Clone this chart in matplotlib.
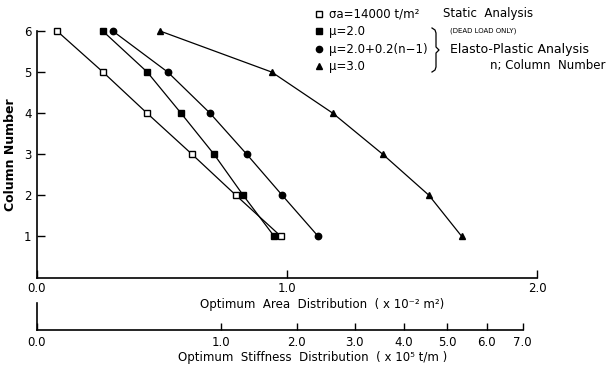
import numpy as np
import matplotlib
matplotlib.use('Agg')
import matplotlib.pyplot as plt
from matplotlib.lines import Line2D

# ── Data (area in 1e-2 m^2, per column) ─────────────────────
columns = [1, 2, 3, 4, 5, 6]
static_area = [0.976, 0.796, 0.620, 0.440, 0.264, 0.080]
mu20_area = [0.949, 0.825, 0.708, 0.576, 0.441, 0.263]
muvar_area = [1.125, 0.981, 0.839, 0.692, 0.523, 0.303]
mu30_area = [1.699, 1.568, 1.383, 1.183, 0.939, 0.492]

labels = ["σa=14000 t/m²", "μ=2.0", "μ=2.0+0.2(n−1)", "μ=3.0"]
area_ticks = [0.0, 1.0, 2.0]
stiff_ticks = [0, 1, 2, 3, 4, 5, 6, 7]
stiff_per_area2 = 1 / 0.539   # stiffness (1e5 t/m) = area^2 / 0.539

W, H = 613, 370
plt.rcParams['font.family'] = 'DejaVu Sans'
plt.rcParams['font.size'] = 8.5

fig = plt.figure(figsize=(W / 100, H / 100), dpi=100)

# ── Main axes ───────────────────────────────────────────────
x0, x1 = 37, 537
y_top, y_bot = 31, 277.5
ax = fig.add_axes([x0 / W, 1 - y_bot / H, (x1 - x0) / W, (y_bot - y_top) / H])

kw = dict(color="black", linewidth=0.9, clip_on=False)
ax.plot(static_area, columns, marker="s", markersize=4, markerfacecolor="white",
        markeredgewidth=1.0, **kw)
ax.plot(mu20_area, columns, marker="s", markersize=4.2, markerfacecolor="black", **kw)
ax.plot(muvar_area, columns, marker="o", markersize=4.6, markerfacecolor="black", **kw)
ax.plot(mu30_area, columns, marker="^", markersize=5, markerfacecolor="black", **kw)

ax.set_xlim(0, 2)
ax.set_ylim(0, 6)
ax.set_xticks(area_ticks)
ax.set_xticklabels([f"{t:.1f}" for t in area_ticks])
ax.set_yticks(columns)
ax.tick_params(direction="in", length=6, width=1.0, pad=4)
ax.tick_params(axis="x", pad=3.5)
for s in ["top", "right"]:
    ax.spines[s].set_visible(False)
for s in ["left", "bottom"]:
    ax.spines[s].set_linewidth(1.2)
ax.set_ylabel("Column Number", fontweight="bold", fontsize=9, labelpad=5)

fig.text(322 / W, 1 - 304.5 / H, "Optimum  Area  Distribution  ( x 10⁻² m²)",
         ha="center", va="center")

# ── Stiffness axis ──────────────────────────────────────────
sb_top, sb_bot = 303, 330
ax2 = fig.add_axes([x0 / W, 1 - sb_bot / H, (x1 - x0) / W, (sb_bot - sb_top) / H])
ax2.set_xscale("function", functions=(lambda k: np.sqrt(np.clip(k, 0, None)),
                                      lambda a: np.asarray(a) ** 2))
ax2.set_xlim(0, 2.0 ** 2 * stiff_per_area2)
ax2.set_xticks(stiff_ticks)
ax2.set_xticklabels([f"{t:.1f}" for t in stiff_ticks])
ax2.minorticks_off()
ax2.set_yticks([])
ax2.tick_params(direction="in", length=5, width=1.0, pad=4)
for s in ["top", "right"]:
    ax2.spines[s].set_visible(False)
ax2.spines["bottom"].set_bounds(0, 7)
ax2.spines["bottom"].set_linewidth(1.2)
ax2.spines["left"].set_linewidth(1.2)
ax2.patch.set_alpha(0)

fig.text(313 / W, 1 - 357.5 / H, "Optimum  Stiffness  Distribution  ( x 10⁵ t/m )",
         ha="center", va="center")

# ── Legend ──────────────────────────────────────────────────
handles = [
    Line2D([], [], linestyle="none", marker="s", markersize=4, markerfacecolor="white",
           markeredgecolor="black"),
    Line2D([], [], linestyle="none", marker="s", markersize=4, color="black"),
    Line2D([], [], linestyle="none", marker="o", markersize=4.5, color="black"),
    Line2D([], [], linestyle="none", marker="^", markersize=5, color="black"),
]
fig.legend(handles, labels, loc="upper left", bbox_to_anchor=(308 / W, 1 - 2 / H),
           frameon=False, handlelength=0.8, handletextpad=0.5, labelspacing=0.38,
           borderpad=0, fontsize=8.5)

fig.text(443 / W, 1 - 14 / H, "Static  Analysis", ha="left", va="center")
fig.text(450 / W, 1 - 31 / H, "(DEAD LOAD ONLY)", ha="left", va="center", fontsize=5)
fig.text(450 / W, 1 - 49 / H, "Elasto-Plastic Analysis", ha="left", va="center",
         fontsize=9)
fig.text(605 / W, 1 - 66 / H, "n; Column  Number", ha="right", va="center")

# brace grouping the elasto-plastic entries
bx = np.array([432, 435, 436, 436, 439, 436, 436, 435, 432])
by = np.array([28, 30, 33, 47, 50, 53, 67, 70, 72])
fig.add_artist(Line2D(bx / W, 1 - by / H, transform=fig.transFigure,
                      color="black", linewidth=0.9))

plt.savefig("out.png", dpi=100)
